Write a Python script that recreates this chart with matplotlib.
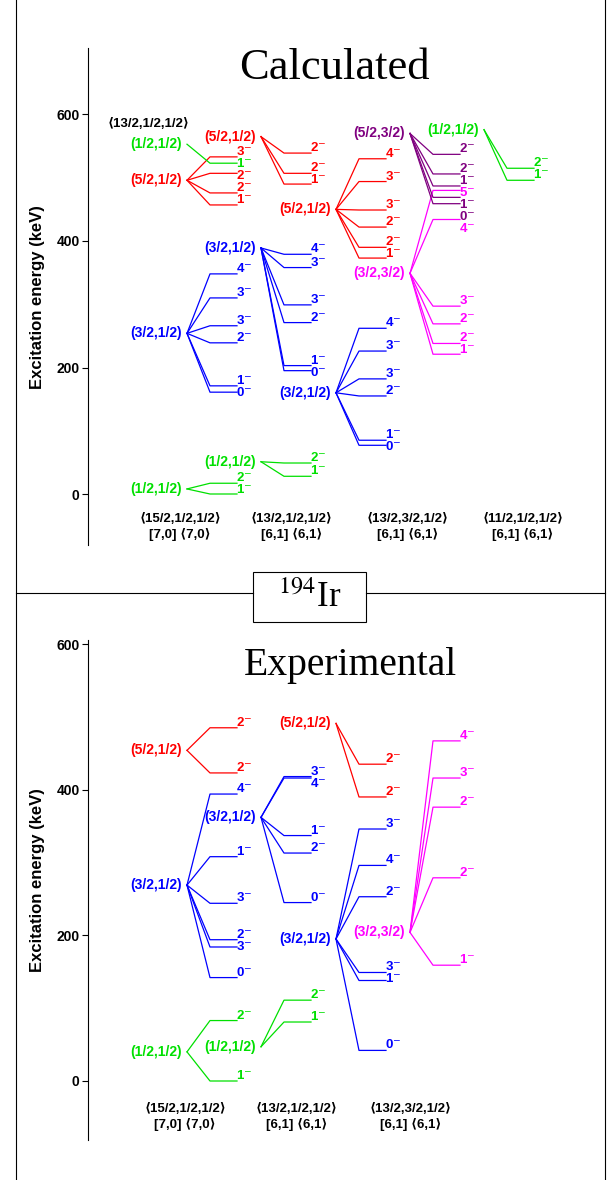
import matplotlib
matplotlib.use('Agg')
import matplotlib.pyplot as plt
from matplotlib.patches import Rectangle
from matplotlib.lines import Line2D

plt.rcParams['font.family'] = ['Liberation Sans', 'DejaVu Sans']

W, H = 610, 1180

GREEN = '#00e000'
BLUE = '#0000ff'
RED = '#ff0000'
MAGENTA = '#ff00ff'
PURPLE = '#800080'

yticks = [0, 200, 400, 600]

# ---------- Calculated (keV) ----------
# column <15/2,1/2,1/2>
calc1_g_head, calc1_g_E, calc1_g_J = 8, [17, 0], ['2', '1']
calc1_b_head, calc1_b_E, calc1_b_J = 254, [348, 310, 266, 239, 171, 161], ['4', '3', '3', '2', '1', '0']
calc1_r_head, calc1_r_E, calc1_r_J = 496, [533, 507, 476, 457], ['3', '2', '2', '1']
calc1_g2_head, calc1_g2_E, calc1_g2_J = 553, [523], ['1']
# column <13/2,1/2,1/2>
calc2_g_head, calc2_g_E, calc2_g_J = 51, [49, 28], ['2', '1']
calc2_b_head, calc2_b_E, calc2_b_J = 389, [379, 358, 299, 271, 203, 195], ['4', '3', '3', '2', '1', '0']
calc2_r_head, calc2_r_E, calc2_r_J = 565, [539, 507, 490], ['2', '2', '1']
# column <13/2,3/2,1/2>
calc3_b_head, calc3_b_E, calc3_b_J = 160, [262, 226, 182, 155, 85, 77], ['4', '3', '3', '2', '1', '0']
calc3_r_head, calc3_r_E, calc3_r_J = 450, [530, 494, 449, 422, 390, 373], ['4', '3', '3', '2', '2', '1']
calc3_m_head, calc3_m_E, calc3_m_J = 349, [480, 434, 297, 269, 238, 221], ['5', '4', '3', '2', '2', '1']
calc3_p_head, calc3_p_E, calc3_p_J = 570, [537, 506, 487, 469, 459], ['2', '2', '1', '1', '0']
# column <11/2,1/2,1/2>
calc4_g_head, calc4_g_E, calc4_g_J = 576, [515, 496], ['2', '1']

# ---------- Experimental (keV) ----------
exp1_r_head, exp1_r_E, exp1_r_J = 454, [485, 423], ['2', '2']
exp1_b_head, exp1_b_E, exp1_b_J = 269, [394, 308, 244, 194, 184, 142], ['4', '1', '3', '2', '3', '0']
exp1_g_head, exp1_g_E, exp1_g_J = 40, [83, 0], ['2', '1']
exp2_b_head, exp2_b_E, exp2_b_J = 362, [418, 416, 337, 313, 245], ['3', '4', '1', '2', '0']
exp2_g_head, exp2_g_E, exp2_g_J = 47, [111, 81], ['2', '1']
exp3_r_head, exp3_r_E, exp3_r_J = 491, [435, 390], ['2', '2']
exp3_b_head, exp3_b_E, exp3_b_J = 195, [346, 296, 253, 149, 138, 42], ['3', '4', '2', '3', '1', '0']
exp3_m_head, exp3_m_E, exp3_m_J = 204, [467, 416, 376, 279, 159], ['4', '3', '2', '2', '1']

configs_calc = ['\u27e815/2,1/2,1/2\u27e9\n[7,0] \u27e87,0\u27e9',
                '\u27e813/2,1/2,1/2\u27e9\n[6,1] \u27e86,1\u27e9',
                '\u27e813/2,3/2,1/2\u27e9\n[6,1] \u27e86,1\u27e9',
                '\u27e811/2,1/2,1/2\u27e9\n[6,1] \u27e86,1\u27e9']
configs_exp = configs_calc[:3]

# (slot, name, colour, head, energies, spins)
calc_groups = [
    (0, '(1/2,1/2)', GREEN, calc1_g_head, calc1_g_E, calc1_g_J),
    (0, '(3/2,1/2)', BLUE, calc1_b_head, calc1_b_E, calc1_b_J),
    (0, '(5/2,1/2)', RED, calc1_r_head, calc1_r_E, calc1_r_J),
    (0, '(1/2,1/2)', GREEN, calc1_g2_head, calc1_g2_E, calc1_g2_J),
    (1, '(1/2,1/2)', GREEN, calc2_g_head, calc2_g_E, calc2_g_J),
    (1, '(3/2,1/2)', BLUE, calc2_b_head, calc2_b_E, calc2_b_J),
    (1, '(5/2,1/2)', RED, calc2_r_head, calc2_r_E, calc2_r_J),
    (2, '(3/2,1/2)', BLUE, calc3_b_head, calc3_b_E, calc3_b_J),
    (2, '(5/2,1/2)', RED, calc3_r_head, calc3_r_E, calc3_r_J),
    (3, '(3/2,3/2)', MAGENTA, calc3_m_head, calc3_m_E, calc3_m_J),
    (3, '(5/2,3/2)', PURPLE, calc3_p_head, calc3_p_E, calc3_p_J),
    (4, '(1/2,1/2)', GREEN, calc4_g_head, calc4_g_E, calc4_g_J),
]
exp_groups = [
    (0, '(5/2,1/2)', RED, exp1_r_head, exp1_r_E, exp1_r_J),
    (0, '(3/2,1/2)', BLUE, exp1_b_head, exp1_b_E, exp1_b_J),
    (0, '(1/2,1/2)', GREEN, exp1_g_head, exp1_g_E, exp1_g_J),
    (1, '(3/2,1/2)', BLUE, exp2_b_head, exp2_b_E, exp2_b_J),
    (1, '(1/2,1/2)', GREEN, exp2_g_head, exp2_g_E, exp2_g_J),
    (2, '(5/2,1/2)', RED, exp3_r_head, exp3_r_E, exp3_r_J),
    (2, '(3/2,1/2)', BLUE, exp3_b_head, exp3_b_E, exp3_b_J),
    (3, '(3/2,3/2)', MAGENTA, exp3_m_head, exp3_m_E, exp3_m_J),
]

SLOT_X = [187, 261, 336, 410, 484]
FAN, LEN = 23, 27


def fx(px):
    return px / W


def fy(py):
    return 1 - py / H


def setup_axes(top_px, bot_px, zero_px, k):
    ax = fig.add_axes([0, fy(bot_px), 1, (bot_px - top_px) / H])
    ax.set_xlim(0, W)
    ax.set_ylim((zero_px - bot_px) / k, (zero_px - top_px) / k)
    for sp in ['top', 'right', 'bottom']:
        ax.spines[sp].set_visible(False)
    ax.spines['left'].set_position(('data', 88))
    ax.spines['left'].set_linewidth(0.8)
    ax.set_xticks([])
    ax.set_yticks(yticks)
    ax.tick_params(axis='y', direction='out', length=4, width=0.8, labelsize=10, pad=2)
    for t in ax.get_yticklabels():
        t.set_fontweight('bold')
    ax.patch.set_visible(False)
    return ax


def draw_panel(ax, groups, k):
    for slot, name, color, head, E, J in groups:
        x0 = SLOT_X[slot]
        ax.text(x0 - 5, head, name, ha='right', va='center', color=color,
                fontsize=10, fontweight='bold')
        for e in E:
            ax.plot([x0, x0 + FAN, x0 + FAN + LEN], [head, e, e], color=color, lw=0.9)
    # spin labels, pushed apart so they do not overlap
    for slot in range(len(SLOT_X)):
        items = [(e, j, color) for s, _, color, _, E, J in groups if s == slot
                 for e, j in zip(E, J)]
        items.sort(key=lambda t: -t[0])
        prev = None
        for e, j, color in items:
            s = -e * k - 7
            if prev is not None and s < prev + 12:
                s = prev + 12
            prev = s
            dy = -(s + e * k) - 5
            ax.annotate(j + '$^{-}$', (SLOT_X[slot] + FAN + LEN - 1, e),
                        xytext=(0, dy * 0.72), textcoords='offset points',
                        ha='left', va='baseline', color=color,
                        fontsize=9.5, fontweight='bold')


fig = plt.figure(figsize=(W / 100, H / 100), dpi=100)

# Calculated panel
k_top = 0.6325
ax1 = setup_axes(48, 545, 494, k_top)
draw_panel(ax1, calc_groups, k_top)
ax1.text(149, (494 - 124) / k_top, '\u27e813/2,1/2,1/2\u27e9', ha='center', va='center',
         fontsize=9.5, fontweight='bold')
for x, t in zip([180, 292, 408, 523], configs_calc):
    ax1.text(x, (494 - 527) / k_top, t, ha='center', va='center', fontsize=9.5,
             fontweight='bold', linespacing=1.25)
fig.text(fx(334), fy(68), 'Calculated', ha='center', va='center',
         family='Liberation Serif', fontsize=32)

# Experimental panel
k_bot = 0.7283
ax2 = setup_axes(640, 1140, 1081, k_bot)
draw_panel(ax2, exp_groups, k_bot)
for x, t in zip([185, 297, 411], configs_exp):
    ax2.text(x, (1081 - 1117) / k_bot, t, ha='center', va='center', fontsize=9.5,
             fontweight='bold', linespacing=1.25)
fig.text(fx(350), fy(665), 'Experimental', ha='center', va='center',
         family='Liberation Serif', fontsize=28.5)

# y labels
for yc in [297, 880]:
    fig.text(fx(38), fy(yc), 'Excitation energy (keV)', rotation=90, ha='center',
             va='center', fontsize=12, fontweight='bold')

# frame, divider and nucleus box
fig.add_artist(Line2D([fx(16), fx(16)], [0, 1], color='black', lw=0.8))
fig.add_artist(Line2D([fx(605), fx(605)], [0, 1], color='black', lw=0.8))
fig.add_artist(Line2D([fx(16), fx(253)], [fy(593), fy(593)], color='black', lw=0.8))
fig.add_artist(Line2D([fx(366), fx(605)], [fy(593), fy(593)], color='black', lw=0.8))
fig.add_artist(Rectangle((fx(253), fy(622)), fx(113), 50 / H, fill=False,
                         edgecolor='black', lw=0.8))
fig.text(fx(310), fy(598), r'$^{194}$Ir', ha='center', va='center',
         family='Liberation Serif', math_fontfamily='stix', fontsize=25)

fig.savefig('out.png', dpi=100)
